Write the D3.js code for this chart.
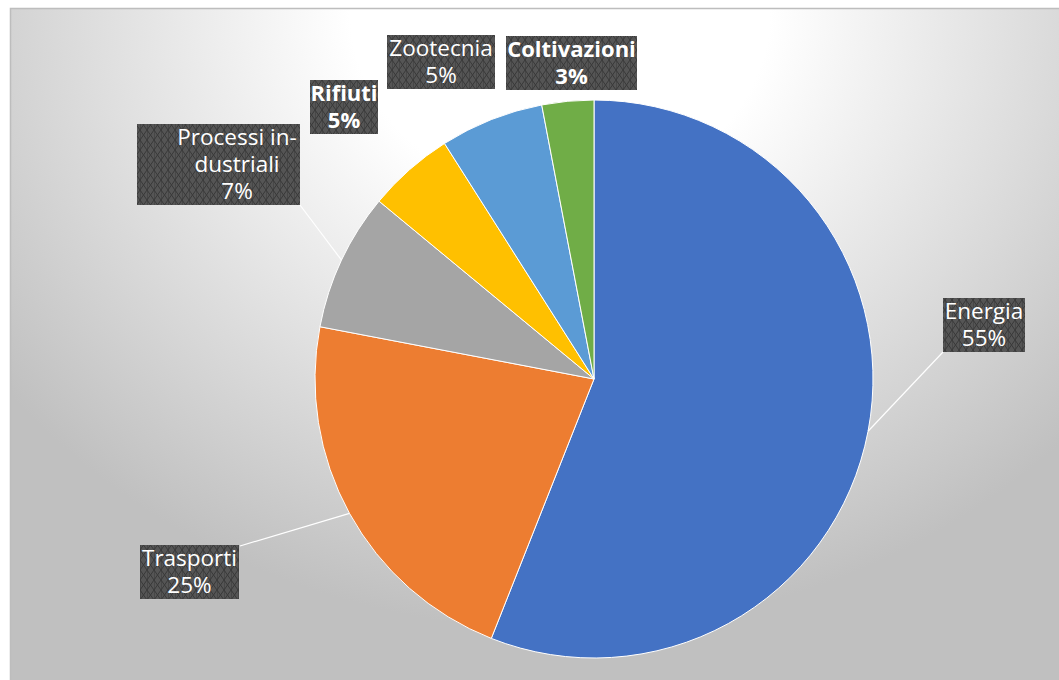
<!DOCTYPE html>
<html>
<head>
<meta charset="utf-8">
<script src="https://cdn.jsdelivr.net/npm/d3@7"></script>
<style>
  body { margin: 0; background: #fff; }
  svg { display: block; }
</style>
</head>
<body>
<svg id="chart" width="1059" height="680"></svg>
<script>
// data
const sectors = ['Energia', 'Trasporti', 'Processi industriali', 'Rifiuti', 'Zootecnia', 'Coltivazioni'];
const shares = [56, 22, 8, 5, 6, 3];          // slice sizes as drawn
const labelPct = ['55%', '25%', '7%', '5%', '5%', '3%']; // label text as printed
const labelLines = [['Energia'], ['Trasporti'], ['Processi in-', 'dustriali'], ['Rifiuti'], ['Zootecnia'], ['Coltivazioni']];
const colors = ['#4472C4', '#ED7D31', '#A5A5A5', '#FFC000', '#5B9BD5', '#70AD47'];

// label placement (text centre x, first baseline y, box left/right, leader end point)
const labelPos = [
  { cx: 984, y: 319, x0: 943, x1: 1025, bold: false, lead: [943, 352] },
  { cx: 189.5, y: 566, x0: 140, x1: 239, bold: false, lead: [240, 546] },
  { cx: 237, y: 145, x0: 137, x1: 300, bold: false, lead: [300, 205] },
  { cx: 344, y: 101, x0: 310, x1: 378, bold: true, lead: null },
  { cx: 441, y: 56, x0: 387, x1: 495, bold: false, lead: null },
  { cx: 571.5, y: 57, x0: 506, x1: 637, bold: true, lead: null }
];

const W = 1059, H = 680;
const cx = 594, cy = 379, R = 279;
const LH = 27;

const svg = d3.select('#chart');
const defs = svg.append('defs');

const grad = defs.append('radialGradient')
  .attr('id', 'bg')
  .attr('gradientUnits', 'userSpaceOnUse')
  .attr('cx', 0).attr('cy', 0).attr('r', 1)
  .attr('gradientTransform', 'translate(560,10) scale(700,620)');
grad.append('stop').attr('offset', 0).attr('stop-color', '#ffffff');
grad.append('stop').attr('offset', 0.3).attr('stop-color', '#ffffff');
grad.append('stop').attr('offset', 1).attr('stop-color', '#c0c0c0');

const pat = defs.append('pattern')
  .attr('id', 'hatch')
  .attr('patternUnits', 'userSpaceOnUse')
  .attr('width', 7).attr('height', 10);
pat.append('rect').attr('width', 7).attr('height', 10).attr('fill', '#555555');
pat.append('path')
  .attr('d', 'M0,0L7,10M7,0L0,10M0,0V10')
  .attr('stroke', '#383838').attr('stroke-width', 1).attr('fill', 'none');

// chart area
svg.append('rect')
  .attr('x', 10.5).attr('y', 8.5)
  .attr('width', W + 10).attr('height', H + 10)
  .attr('fill', 'url(#bg)')
  .attr('stroke', '#bdbdbd').attr('stroke-width', 1.5);

const pie = d3.pie().sort(null).value(d => d);
const arcs = pie(shares);
const arc = d3.arc().innerRadius(0).outerRadius(R);

const g = svg.append('g').attr('transform', `translate(${cx},${cy})`);
g.selectAll('path')
  .data(arcs)
  .join('path')
  .attr('d', arc)
  .attr('fill', (d, i) => colors[i])
  .attr('stroke', '#ffffff')
  .attr('stroke-width', 1);

// leader lines from arc edge at mid angle
arcs.forEach((a, i) => {
  const p = labelPos[i];
  if (!p.lead) return;
  const m = (a.startAngle + a.endAngle) / 2;
  svg.append('line')
    .attr('x1', cx + R * Math.sin(m)).attr('y1', cy - R * Math.cos(m))
    .attr('x2', p.lead[0]).attr('y2', p.lead[1])
    .attr('stroke', '#ffffff').attr('stroke-width', 1.2);
});

// labels
sectors.forEach((s, i) => {
  const p = labelPos[i];
  const lines = labelLines[i].concat([labelPct[i]]);
  const top = p.y - 21;
  const bottom = p.y + LH * (lines.length - 1) + 6;
  svg.append('rect')
    .attr('x', p.x0).attr('y', top)
    .attr('width', p.x1 - p.x0).attr('height', bottom - top)
    .attr('fill', 'url(#hatch)');
  const t = svg.append('text')
    .attr('text-anchor', 'middle')
    .attr('font-family', '"Open Sans", "Noto Sans", sans-serif')
    .attr('font-size', p.bold ? 22 : 22.5)
    .attr('font-weight', p.bold ? 'bold' : 'normal')
    .attr('fill', '#ffffff');
  lines.forEach((ln, k) => {
    t.append('tspan').attr('x', p.cx).attr('y', p.y + k * LH).text(ln);
  });
});
</script>
</body>
</html>
